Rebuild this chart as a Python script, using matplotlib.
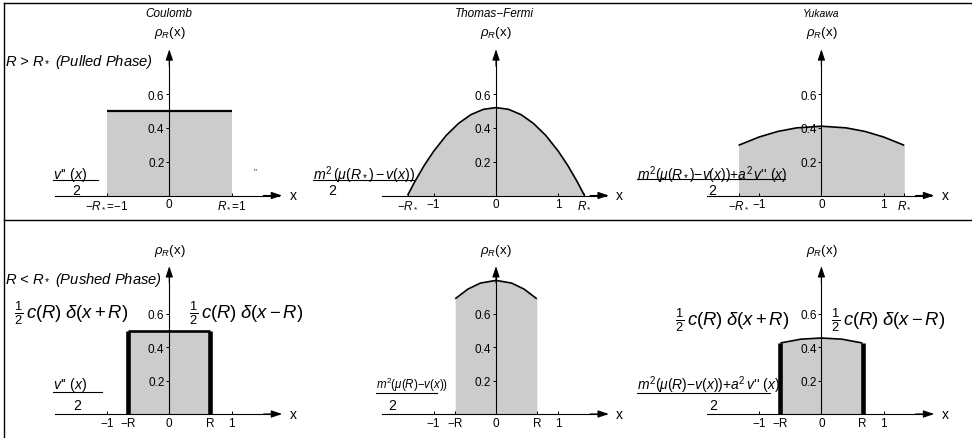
import matplotlib.pyplot as plt

plt.rcParams['font.family'] = 'Liberation Sans'
plt.rcParams['mathtext.fontset'] = 'custom'
plt.rcParams['mathtext.rm'] = 'Liberation Sans'
plt.rcParams['mathtext.it'] = 'Liberation Sans:italic'
plt.rcParams['mathtext.bf'] = 'Liberation Sans:bold'

W, H = 972, 439

# ---- data ----
# pulled phase (R > R*)
coul_pulled_x = [-1.0, 1.0]
coul_pulled_rho = [0.5, 0.5]
tf_pulled_x = [-1.42, -1.3, -1.15, -1.0, -0.8, -0.6, -0.4, -0.2, 0.0,
               0.2, 0.4, 0.6, 0.8, 1.0, 1.15, 1.3, 1.42]
tf_pulled_rho = [0.0, 0.084, 0.179, 0.262, 0.355, 0.427, 0.479, 0.510, 0.52,
                 0.510, 0.479, 0.427, 0.355, 0.262, 0.179, 0.084, 0.0]
yuk_pulled_x = [-1.33, -1.0, -0.7, -0.4, 0.0, 0.4, 0.7, 1.0, 1.33]
yuk_pulled_rho = [0.297, 0.346, 0.379, 0.400, 0.41, 0.400, 0.379, 0.346, 0.297]

# pushed phase (R < R*)
coul_pushed_x = [-0.655, 0.655]
coul_pushed_rho = [0.5, 0.5]
tf_pushed_x = [-0.655, -0.45, -0.25, 0.0, 0.25, 0.45, 0.655]
tf_pushed_rho = [0.69, 0.748, 0.784, 0.80, 0.784, 0.748, 0.69]
yuk_pushed_x = [-0.66, -0.33, 0.0, 0.33, 0.66]
yuk_pushed_rho = [0.425, 0.448, 0.455, 0.448, 0.425]

y_ticks = [0.2, 0.4, 0.6]
y_tick_labels = ['0.2', '0.4', '0.6']

coul_pulled_ticks = [-1.0, 0.0, 1.0]
coul_pulled_labels = [r'$-R_*$=' + '\u22121', '0', r'$R_*$=1']
tf_pulled_ticks = [-1.42, -1.0, 0.0, 1.0, 1.42]
yuk_pulled_ticks = [-1.33, -1.0, 0.0, 1.0, 1.33]
rstar_labels = [r'$-R_*$', '\u22121', '0', '1', r'$R_*$']
pushed_ticks_c = [-1.0, -0.655, 0.0, 0.655, 1.0]
pushed_ticks_y = [-1.0, -0.66, 0.0, 0.66, 1.0]
pushed_labels = ['\u22121', '\u2212R', '0', 'R', '1']

# ---- layout ----
SX = 62.3                      # px per x unit
COL_X0 = [169.3, 496.0, 821.4]  # pixel of x = 0
ROW_Y0 = [196.5, 415.0]         # pixel of rho = 0
ROW_SY = [169.0, 167.0]         # px per rho unit
XMIN, XMAX = -1.83, 1.81
YMAX = [0.865, 0.885]

fig = plt.figure(figsize=(W / 100, H / 100), dpi=100)


def overlay(name):
    a = fig.add_axes([0, 0, 1, 1], label=name, facecolor='none')
    a.set_xlim(0, W)
    a.set_ylim(H, 0)
    a.axis('off')
    return a


bg = overlay('bg')


def panel(idx, col, row, xs, rho, ticks, labels, curve_lw, bars=False):
    ax = fig.add_axes([0, 0, 1, 1], label=f'p{idx}', facecolor='none')
    x0, y0, sy = COL_X0[col], ROW_Y0[row], ROW_SY[row]
    ax.set_xlim(-x0 / SX, (W - x0) / SX)
    ax.set_ylim((y0 - H) / sy, y0 / sy)
    ax.fill_between(xs, 0, rho, color='#cccccc', lw=0, zorder=1)
    ax.plot(xs, rho, color='k', lw=curve_lw, zorder=3, solid_capstyle='butt')
    if bars:
        ax.vlines([xs[0], xs[-1]], 0, [rho[0], rho[-1]], color='k', lw=3.3, zorder=3)
    for s in ('top', 'right'):
        ax.spines[s].set_visible(False)
    ax.spines['bottom'].set_position(('data', 0))
    ax.spines['bottom'].set_bounds(XMIN, XMAX - 0.05)
    ax.spines['left'].set_position(('data', 0))
    ax.spines['left'].set_bounds(0, YMAX[row] - 0.03)
    for s in ('bottom', 'left'):
        ax.spines[s].set_linewidth(0.8)
        ax.spines[s].set_zorder(2.5)
    ax.set_xticks(ticks, labels)
    ax.set_yticks(y_ticks, y_tick_labels)
    ax.tick_params(axis='x', direction='in', length=2.5, width=0.7, pad=2, labelsize=8.5)
    ax.tick_params(axis='y', direction='out', length=2.5, width=0.7, pad=1, labelsize=8.5)
    arrow = dict(arrowstyle='-|>,head_length=0.65,head_width=0.22', color='k',
                 lw=0.8, shrinkA=0, shrinkB=0, mutation_scale=10)
    ax.annotate('', xy=(XMAX, 0), xytext=(XMAX - 0.3, 0), arrowprops=arrow)
    ax.annotate('', xy=(0, YMAX[row]), xytext=(0, YMAX[row] - 0.1), arrowprops=arrow)
    ax.text(XMAX + 0.12, 0, 'x', ha='left', va='center', fontsize=10)
    ax.text(0, YMAX[row] + 0.1, r'$\rho_R$(x)', ha='center', va='center', fontsize=9.5)
    return ax


panel(0, 0, 0, coul_pulled_x, coul_pulled_rho, coul_pulled_ticks, coul_pulled_labels, 1.6)
panel(1, 1, 0, tf_pulled_x, tf_pulled_rho, tf_pulled_ticks, rstar_labels, 1.2)
panel(2, 2, 0, yuk_pulled_x, yuk_pulled_rho, yuk_pulled_ticks, rstar_labels, 1.2)
panel(3, 0, 1, coul_pushed_x, coul_pushed_rho, pushed_ticks_c, pushed_labels, 1.9, bars=True)
panel(4, 1, 1, tf_pushed_x, tf_pushed_rho, pushed_ticks_c, pushed_labels, 1.2)
panel(5, 2, 1, yuk_pushed_x, yuk_pushed_rho, pushed_ticks_y, pushed_labels, 1.2, bars=True)

fg = overlay('fg')

# frame
fg.plot([4, 4], [4, H], color='k', lw=1)
fg.plot([4, W], [4, 4], color='k', lw=1)
fg.plot([4, W], [221, 221], color='k', lw=1)

# titles and phase labels
fg.text(169, 14, 'Coulomb', style='italic', ha='center', va='center', fontsize=8.5)
fg.text(494, 14, 'Thomas\u2212Fermi', style='italic', ha='center', va='center', fontsize=8.5)
fg.text(821, 14, 'Yukawa', style='italic', ha='center', va='center', fontsize=7.5)
fg.text(5, 62, r'$R$ > $R_*$ (Pulled Phase)', style='italic', ha='left', va='center', fontsize=10.6)
fg.text(5, 280, r'$R$ < $R_*$ (Pushed Phase)', style='italic', ha='left', va='center', fontsize=10.6)
fg.text(255, 172, '"', ha='center', va='center', fontsize=6)

# delta-peak labels
dl = r'$\frac{1}{2}\,c(R)\;\delta(x+R)$'
dr = r'$\frac{1}{2}\,c(R)\;\delta(x-R)$'
for xc, yc, t in [(71, 313, dl), (246, 313, dr), (732, 320, dl), (888, 320, dr)]:
    fg.text(xc, yc, t, ha='center', va='center', fontsize=13.3)

# density formulas (numerator / bar / denominator)
fracs = [
    (53, 98, 175, 181, 76, 191, r"$v$'' $(x)$", 10.2),
    (313, 414, 175, 181, 332, 191, r"$m^2\,(\mu(R_*)-v(x))$", 10.2),
    (637, 785, 175, 180, 712, 191, r"$m^2(\mu(R_*){-}v(x)){+}a^2\,v$'' $(x)$", 10.0),
    (53, 102, 385, 393, 77, 406, r"$v$'' $(x)$", 10.2),
    (376, 437, 385, 394, 392, 406, r"$m^2(\mu(R){-}v(x))$", 8.3),
    (637, 770, 385, 394, 713, 406, r"$m^2(\mu(R){-}v(x)){+}a^2\,v$'' $(x)$", 10.0),
]
for x1, x2, yn, yb, xd, yd, num, fs in fracs:
    fg.text(x1, yn, num, ha='left', va='center', fontsize=fs)
    fg.plot([x1, x2], [yb, yb], color='k', lw=0.8)
    fg.text(xd, yd, '2', ha='center', va='center', fontsize=10.2)

fig.savefig('out.png', dpi=100)
